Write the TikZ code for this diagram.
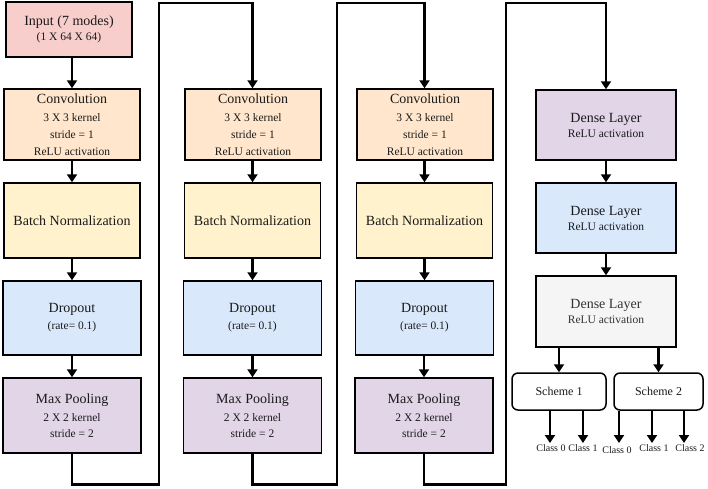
\documentclass[tikz,border=0pt]{standalone}
\usepackage{fontspec}
\setmainfont{Liberation Serif}
\usetikzlibrary{arrows.meta}
\definecolor{cpink}{HTML}{F8CECC}
\definecolor{corange}{HTML}{FFE6CC}
\definecolor{cyellow}{HTML}{FFF2CC}
\definecolor{cblue}{HTML}{DAE8FC}
\definecolor{cpurple}{HTML}{E1D5E7}
\definecolor{cgray}{HTML}{F5F5F5}
\definecolor{cgraytext}{HTML}{333333}
\definecolor{ctext}{HTML}{1A1A1A}
\tikzset{
  box/.style={draw=black, line width=1.5pt, inner sep=0pt, align=center, text=ctext,
    font=\fontsize{11.5}{17}\selectfont},
  convbox/.style={box, fill=corange, minimum width=136pt, minimum height=71pt},
  bnbox/.style={box, fill=cyellow, minimum width=136pt, minimum height=75pt},
  dropbox/.style={box, fill=cblue, minimum width=138pt, minimum height=74pt},
  poolbox/.style={box, fill=cpurple, minimum width=138pt, minimum height=75pt},
  densebox/.style={box, minimum width=140pt, minimum height=70pt},
  schemebox/.style={draw=black, line width=1.5pt, fill=white, rounded corners=6pt,
    minimum height=37pt, inner sep=0pt, text=ctext, font=\fontsize{12}{14}\selectfont},
  classlbl/.style={inner sep=0pt, anchor=north, text=ctext, font=\fontsize{10}{12}\selectfont},
  conn/.style={line width=2.2pt, -{Triangle[width=10pt,length=8pt]}},
}
\newcommand{\ttl}[1]{{\fontsize{14}{17}\selectfont #1}}
\begin{document}
\begin{tikzpicture}[x=1pt,y=-1pt]
\useasboundingbox (0,0) rectangle (708,488);
% column 1
\node[box, fill=cpink, minimum width=126pt, minimum height=55pt] (in) at (69,29.5)
  {\ttl{Input (7 modes)}\\[-1.5pt](1 X 64 X 64)};
\node[convbox] (cv1) at (72,124.5) {\ttl{Convolution}\\[1pt]3 X 3 kernel\\stride = 1\\ReLU activation};
\node[bnbox] (bn1) at (72,220.5) {\ttl{Batch Normalization}};
\node[dropbox] (dr1) at (72,318) {\ttl{Dropout}\\(rate= 0.1)};
\node[poolbox] (mp1) at (72,415.5) {\ttl{Max Pooling}\\[0.5pt]2 X 2 kernel\\[-1pt]stride = 2};
% column 2
\node[convbox] (cv2) at (253,124.5) {\ttl{Convolution}\\[1pt]3 X 3 kernel\\stride = 1\\ReLU activation};
\node[bnbox] (bn2) at (252.5,220.5) {\ttl{Batch Normalization}};
\node[dropbox] (dr2) at (252.5,318) {\ttl{Dropout}\\(rate= 0.1)};
\node[poolbox] (mp2) at (252.5,415.5) {\ttl{Max Pooling}\\[0.5pt]2 X 2 kernel\\[-1pt]stride = 2};
% column 3
\node[convbox] (cv3) at (425,124.5) {\ttl{Convolution}\\[1pt]3 X 3 kernel\\stride = 1\\ReLU activation};
\node[bnbox] (bn3) at (424.5,220.5) {\ttl{Batch Normalization}};
\node[dropbox] (dr3) at (424.5,318) {\ttl{Dropout}\\(rate= 0.1)};
\node[poolbox] (mp3) at (424,415.5) {\ttl{Max Pooling}\\[0.5pt]2 X 2 kernel\\[-1pt]stride = 2};
% column 4
\node[densebox, fill=cpurple] (d1) at (606,125) {\ttl{Dense Layer}\\[-2pt]ReLU activation};
\node[densebox, fill=cblue] (d2) at (606,218) {\ttl{Dense Layer}\\[-2pt]ReLU activation};
\node[densebox, fill=cgray, text=cgraytext, minimum height=71pt] (d3) at (606,311.5) {\ttl{Dense Layer}\\[-2pt]ReLU activation};
\node[schemebox, minimum width=94pt] (s1) at (559,391.5) {Scheme 1};
\node[schemebox, minimum width=89pt] (s2) at (658.5,391.5) {Scheme 2};
% class outputs
\coordinate (e1) at (550,443);
\coordinate (e2) at (583,443);
\coordinate (e3) at (619,443);
\coordinate (e4) at (652,443);
\coordinate (e5) at (684,443);
\node[classlbl] (l1) at (551,444) {Class 0};
\node[classlbl] (l2) at (583,444) {Class 1};
\node[classlbl] (l3) at (617,446) {Class 0};
\node[classlbl] (l4) at (654,444.5) {Class 1};
\node[classlbl] (l5) at (690,444.5) {Class 2};
% connectors
\draw[conn] (in.south -| cv1.north) -- (cv1.north);
\draw[conn] (cv1) -- (bn1);
\draw[conn] (bn1) -- (dr1);
\draw[conn] (dr1) -- (mp1);
\draw[conn] (cv2.south -| bn2.north) -- (bn2.north);
\draw[conn] (bn2) -- (dr2);
\draw[conn] (dr2) -- (mp2);
\draw[conn] (cv3.south -| bn3.north) -- (bn3.north);
\draw[conn] (bn3) -- (dr3);
\draw[conn] (dr3.south -| mp3.north) -- (mp3.north);
\draw[conn] (d1) -- (d2);
\draw[conn] (d2) -- (d3);
\draw[conn] (d3.south -| s1.north) -- (s1.north);
\draw[conn] (d3.south -| s2.north) -- (s2.north);
\draw[conn] (mp1.south) |- (159,484.5) -- (159,3) -| (cv2.north -| bn2.north);
\draw[conn] (mp2.south) |- (337,484.5) -- (337,3) -| (cv3.north -| bn3.north);
\draw[conn] (mp3.south) |- (506,484.5) -- (506,3) -| (d1.north);
\draw[conn] (s1.south -| e1) -- (e1);
\draw[conn] (s1.south -| e2) -- (e2);
\draw[conn] (s2.south -| e3) -- (e3);
\draw[conn] (s2.south -| e4) -- (e4);
\draw[conn] (s2.south -| e5) -- (e5);
\end{tikzpicture}
\end{document}
